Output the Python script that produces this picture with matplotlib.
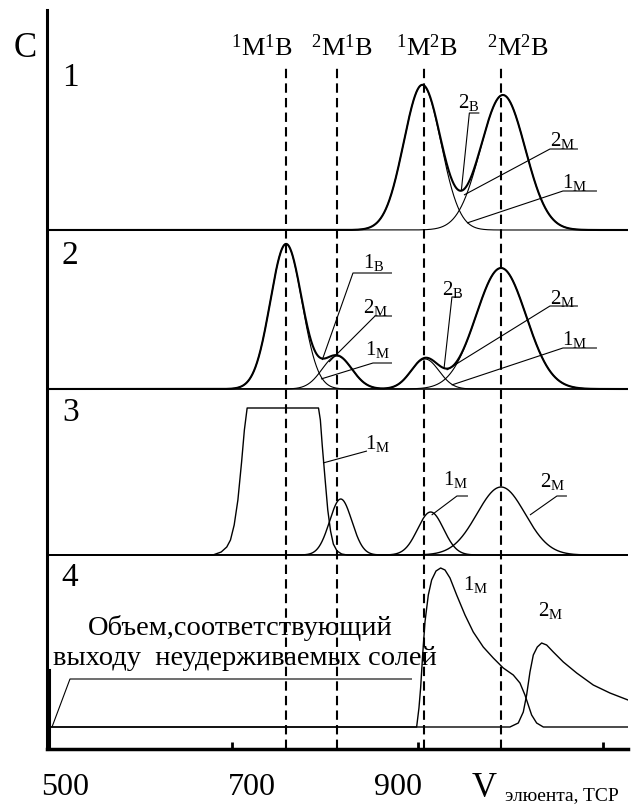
import numpy as np
import matplotlib.pyplot as plt

plt.rcParams['font.family'] = ['Liberation Serif', 'DejaVu Serif']
plt.rcParams['mathtext.fontset'] = 'custom'
plt.rcParams['mathtext.rm'] = 'Liberation Serif'
plt.rcParams['mathtext.it'] = 'Liberation Serif:italic'
plt.rcParams['mathtext.bf'] = 'Liberation Serif:bold'

# elution volume range
v_min, v_max = 500, 1127

# complex positions (dashed lines) and their labels
ref_volumes = [758, 813, 907, 990]
ref_labels = [r'$^{1}$M$^{1}$B', r'$^{2}$M$^{1}$B', r'$^{1}$M$^{2}$B', r'$^{2}$M$^{2}$B']
ref_label_pos = [732, 818, 910, 1008]

# panel 1: two overlapping peaks
p1_pos = [905, 992]
p1_height = [145, 135]
p1_width = [20, 24]

# panel 2: four peaks
p2_pos = [758, 813, 908, 990]
p2_height = [145, 33, 30, 121]
p2_width = [17, 16, 15, 27]

# panel 3: saturated zone + three peaks
p3_zone_v = [500, 679, 688, 694, 698, 702, 706, 710, 713, 716, 793, 795, 797, 800, 803,
             806, 809, 813, 818, 824, 1127]
p3_zone_c = [0, 0, 3, 8, 15, 30, 55, 93, 125, 147, 147, 135, 110, 77, 45,
             24, 11, 4, 1, 0, 0]
p3_pos = [817, 914, 990]
p3_height = [56, 43, 68]
p3_width = [12, 14, 26]

# panel 4: tailing peaks
p4_1m_v = [500, 898.9, 901.4, 903.2, 905.4, 907.9, 911.5, 915.1, 919.8, 924.8, 929.5,
           934.9, 942.1, 951.1, 960, 970.8, 981.6, 992.4, 1003.2, 1010.4, 1015.8,
           1019.4, 1023, 1028.4, 1035.6, 1127]
p4_1m_c = [0, 0, 19, 39, 72, 105, 132, 147, 156, 159, 157,
           149, 132, 112, 95, 80, 69, 59, 52, 44, 32,
           22, 12, 4, 0, 0]
p4_2m_v = [500, 999.6, 1008.6, 1014, 1017.6, 1021.2, 1024.8, 1029.1, 1033.8, 1039.2,
           1046.4, 1057.2, 1071.6, 1089.5, 1107.5, 1127]
p4_2m_c = [0, 0, 4, 15, 32, 55, 72, 80, 84, 82,
           75, 65, 54, 42, 34, 27]

# x tick labels
tick_values = [700, 900, 1100]
tick_label_text = ['500', '700', '900']
tick_label_pos = [520, 721, 879]

# panel baselines (vertical offsets of the stacked chromatograms)
baselines = [519, 360, 194, 22]


def gauss(v, pos, h, w):
    return h * np.exp(-(v - pos) ** 2 / (2.0 * w ** 2))


def tag(ax, x, y, num, sub, size=15):
    ax.text(x, y, num + r'$_{\mathrm{' + sub + '}}$', fontsize=size, va='baseline')


def leader(ax, xs, ys):
    ax.plot(xs, ys, color='black', lw=0.8, solid_capstyle='butt')


fig = plt.figure(figsize=(6.39, 8.05), dpi=100)
ax = fig.add_axes([47 / 639, 56 / 805, 581 / 639, 739 / 805])
ax.set_xlim(v_min, v_max)
ax.set_ylim(0, 739)

v = np.linspace(v_min, v_max, 2000)

# panel 1
b = baselines[0]
comps = [gauss(v, p, h, w) for p, h, w in zip(p1_pos, p1_height, p1_width)]
for c in comps:
    ax.plot(v, b + c, color='black', lw=0.8)
ax.plot(v, b + np.sum(comps, axis=0), color='black', lw=1.5)

# panel 2
b = baselines[1]
comps = [gauss(v, p, h, w) for p, h, w in zip(p2_pos, p2_height, p2_width)]
for c in comps:
    ax.plot(v, b + c, color='black', lw=0.8)
ax.plot(v, b + np.sum(comps, axis=0), color='black', lw=1.5)

# panel 3
b = baselines[2]
ax.plot(p3_zone_v, b + np.array(p3_zone_c), color='black', lw=1.0)
for p, h, w in zip(p3_pos, p3_height, p3_width):
    ax.plot(v, b + gauss(v, p, h, w), color='black', lw=1.0)

# panel 4
b = baselines[3]
ax.plot(p4_1m_v, b + np.array(p4_1m_c), color='black', lw=1.0)
ax.plot(p4_2m_v, b + np.array(p4_2m_c), color='black', lw=1.0)

# dashed reference lines + header labels
for rv in ref_volumes:
    ax.plot([rv, rv], [0, 683], color='black', lw=1.5, dashes=(4.5, 2.5))
for lp, rl in zip(ref_label_pos, ref_labels):
    ax.text(lp, 701, rl, fontsize=19, ha='center', va='center')

ax.text(476, 700, 'C', fontsize=25, ha='center', va='center', clip_on=False)
for num, yy in zip(['1', '2', '3', '4'], [671, 493, 336, 171]):
    ax.text(516, yy, num, fontsize=24, ha='left', va='center')

# panel 1 annotations
tag(ax, 943.5, 641, '2', 'В')
leader(ax, [966.6, 955.8, 947.2], [636, 636, 559])
tag(ax, 1042.8, 603, '2', 'М')
leader(ax, [1073, 1042.8, 950], [600, 600, 554])
tag(ax, 1055.7, 561, '1', 'М')
leader(ax, [1093.5, 1056.8, 953.2], [558, 558, 526])

# panel 2 annotations
tag(ax, 841, 481, '1', 'В')
leader(ax, [872.3, 830.2, 797], [476, 476, 389])
tag(ax, 841, 436, '2', 'М')
leader(ax, [872.3, 854, 804.3], [433, 433, 387])
tag(ax, 843.2, 394, '1', 'М')
leader(ax, [872.3, 851.8, 795.7], [386, 386, 370])
tag(ax, 926.2, 454, '2', 'В')
leader(ax, [945.6, 937, 928.4], [452, 452, 380])
tag(ax, 1042.8, 445, '2', 'М')
leader(ax, [1073, 1042.8, 931.3], [443, 443, 379])
tag(ax, 1055.7, 404, '1', 'М')
leader(ax, [1093.5, 1056.8, 936.7], [401, 401, 364])

# panel 3 annotations
tag(ax, 843.2, 300, '1', 'М')
leader(ax, [845.3, 797.8], [298, 286])
tag(ax, 927.3, 264, '1', 'М')
leader(ax, [954.3, 942.4, 915.1], [253, 253, 234])
tag(ax, 1032, 262, '2', 'М')
leader(ax, [1061.1, 1050.3, 1021.2], [253, 253, 234])

# panel 4 annotations
tag(ax, 948.9, 159, '1', 'М')
tag(ax, 1029.8, 133, '2', 'М')
ax.text(544.2, 114, 'Объем,соответствующий', fontsize=20.5, va='baseline')
ax.text(506.5, 84, 'выходу  неудерживаемых солей', fontsize=20.5, va='baseline')
leader(ax, [505.4, 524.8, 893.9], [22, 70, 70])
ax.plot([502.2, 502.2], [0, 79], color='black', lw=2.2)

# axes styling
for s in ['top', 'right']:
    ax.spines[s].set_visible(False)
ax.spines['left'].set_linewidth(2.2)
ax.spines['bottom'].set_linewidth(2.5)
ax.set_yticks([])
ax.set_xticks(tick_values)
ax.set_xticklabels([])
ax.tick_params(axis='x', direction='in', length=5, width=2)

for t, x in zip(tick_label_text, tick_label_pos):
    ax.text(x, -24, t, fontsize=23, ha='center', va='top', clip_on=False)
ax.text(958.6, -48, 'V', fontsize=25, va='baseline', clip_on=False)
ax.text(994.2, -51, 'элюента, TCP', fontsize=14, va='baseline', clip_on=False)

fig.savefig('out.png', dpi=100)
